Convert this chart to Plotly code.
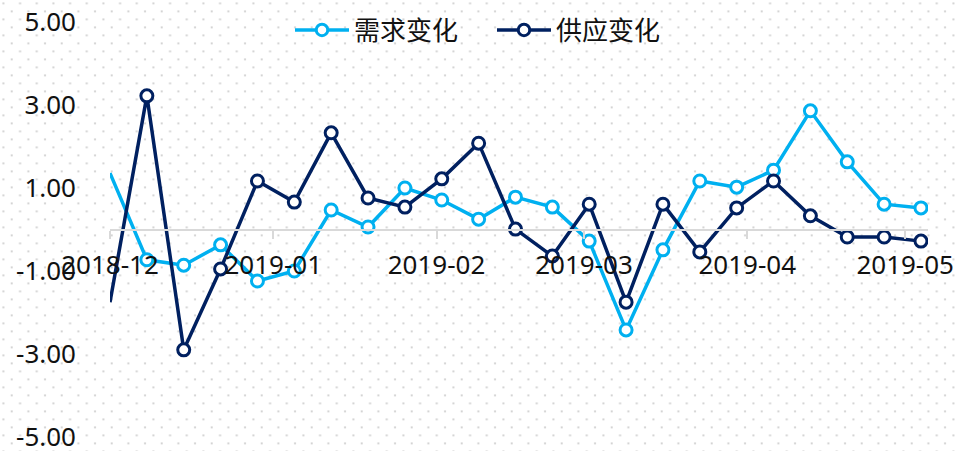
import base64
import plotly.graph_objects as go

# ---- data ----
dates = [
    "2018-12-01", "2018-12-08", "2018-12-15", "2018-12-22", "2018-12-29",
    "2019-01-05", "2019-01-12", "2019-01-19", "2019-01-26", "2019-02-02",
    "2019-02-09", "2019-02-16", "2019-02-23", "2019-03-02", "2019-03-09",
    "2019-03-16", "2019-03-23", "2019-03-30", "2019-04-06", "2019-04-13",
    "2019-04-20", "2019-04-27", "2019-05-04",
]
demand_change = [
    1.36, -0.73, -0.86, -0.37, -1.24, -1.00, 0.47, 0.06, 1.00, 0.71,
    0.25, 0.78, 0.54, -0.28, -2.42, -0.49, 1.17, 1.02, 1.43, 2.86,
    1.63, 0.61, 0.52,
]
supply_change = [
    -1.75, 3.22, -2.90, -0.95, 1.17, 0.66, 2.33, 0.76, 0.54, 1.22,
    2.08, 0.01, -0.64, 0.61, -1.75, 0.61, -0.54, 0.52, 1.17, 0.33,
    -0.18, -0.18, -0.28,
]
series_names = ["需求变化", "供应变化"]
x_tick_vals = ["2018-12-01", "2019-01-01", "2019-02-01", "2019-03-01",
               "2019-04-01", "2019-05-01"]
x_tick_labels = ["2018-12", "2019-01", "2019-02", "2019-03", "2019-04", "2019-05"]
y_tick_vals = [-5, -3, -1, 1, 3, 5]
y_tick_labels = ["-5.00", "-3.00", "-1.00", "1.00", "3.00", "5.00"]

# ---- styling ----
W, H = 958, 451
ML, MR, MT, MB = 110, 30, 22, 14
PW, PH = W - ML - MR, H - MT - MB
FONT = "Noto Sans, Noto Sans CJK SC, sans-serif"
colors = ["#00B0F0", "#002060"]

fig = go.Figure()
for name, vals, col in zip(series_names, [demand_change, supply_change], colors):
    sizes = [0] + [12] * (len(vals) - 1)  # first point sits on the axis edge, no marker
    fig.add_trace(go.Scatter(
        x=dates, y=vals, name=name, mode="lines+markers",
        line=dict(color=col, width=3.5),
        marker=dict(symbol="circle", size=sizes, color="white", opacity=1,
                    line=dict(color=col, width=3)),
        cliponaxis=True,
    ))

# dotted background pattern
svg = (
    f'<svg xmlns="http://www.w3.org/2000/svg" width="{W}" height="{H}">'
    '<defs><pattern id="p" width="16.667" height="16" patternUnits="userSpaceOnUse">'
    '<rect x="2.4" y="2.4" width="2" height="2" fill="#d4d4d4"/>'
    '<rect x="10.7" y="10.4" width="2" height="2" fill="#d4d4d4"/>'
    '</pattern></defs>'
    f'<rect width="{W}" height="{H}" fill="url(#p)"/></svg>'
)
src = "data:image/svg+xml;base64," + base64.b64encode(svg.encode()).decode()

fig.update_layout(
    width=W, height=H,
    margin=dict(l=ML, r=MR, t=MT, b=MB, pad=0, autoexpand=False),
    paper_bgcolor="white",
    plot_bgcolor="rgba(0,0,0,0)",
    font=dict(family=FONT, size=26, color="#111111"),
    showlegend=True,
    legend=dict(orientation="h", x=(290 - ML) / PW, xanchor="left",
                y=1 - 8 / PH, yanchor="middle",
                itemwidth=54, entrywidth=133, entrywidthmode="pixels",
                bgcolor="rgba(0,0,0,0)", font=dict(size=26)),
    images=[dict(source=src, xref="paper", yref="paper",
                 x=-ML / PW, y=1 + MT / PH, sizex=W / PW, sizey=H / PH,
                 xanchor="left", yanchor="top", sizing="stretch", layer="below")],
    xaxis=dict(
        type="date",
        range=["2018-12-01", "2019-05-05 08:00"],
        anchor="free", position=0.5,
        showline=True, linecolor="#d9d9d9", linewidth=2,
        ticks="outside", ticklen=8, tickwidth=2, tickcolor="#d9d9d9",
        tickmode="array", tickvals=x_tick_vals, ticktext=x_tick_labels,
        ticklabelstandoff=4, ticklabeloverflow="allow",
        showgrid=False, zeroline=False, automargin=False,
        tickfont=dict(size=26),
    ),
    yaxis=dict(
        range=[-5, 5],
        tickmode="array", tickvals=y_tick_vals, ticktext=y_tick_labels,
        showgrid=False, zeroline=False, showline=False, ticks="",
        ticklabelstandoff=33, ticklabeloverflow="allow", automargin=False,
        tickfont=dict(size=26),
    ),
)

fig.write_html(
    "out.html",
    config={"displayModeBar": False},
    post_script="document.body.style.margin='0';document.body.style.overflow='hidden';",
)
